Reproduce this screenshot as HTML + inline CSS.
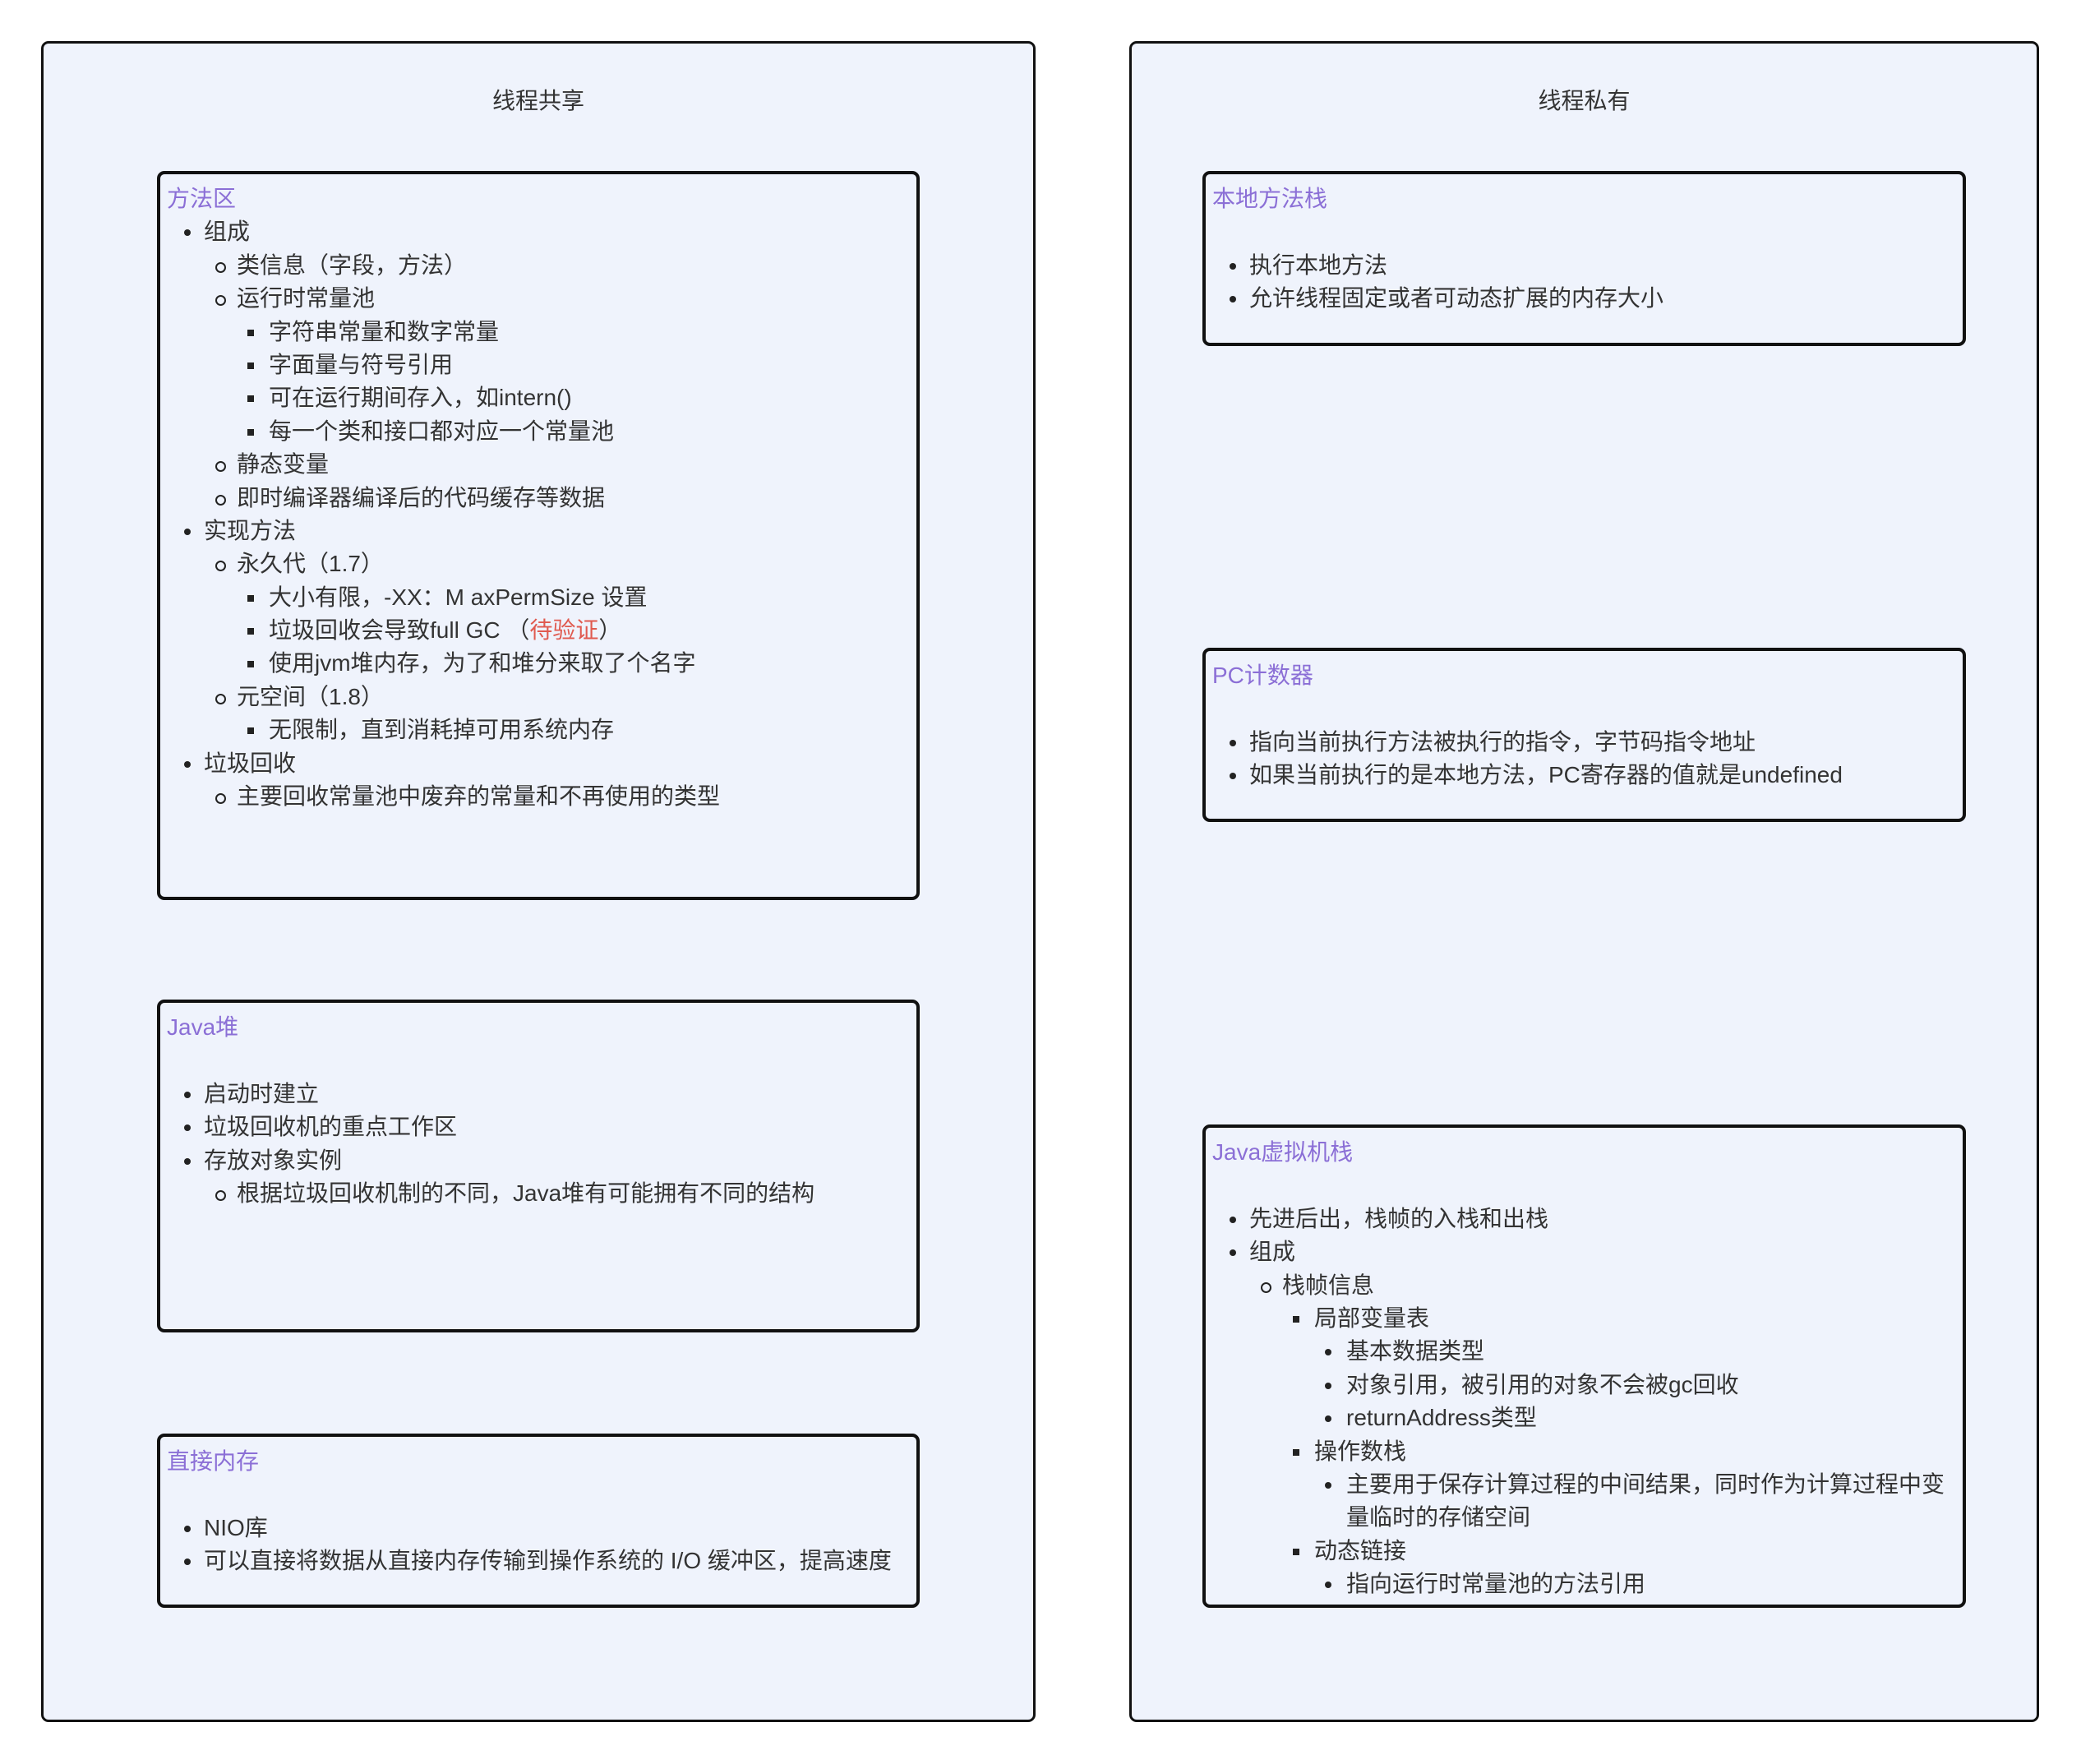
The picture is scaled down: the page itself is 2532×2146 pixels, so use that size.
<!DOCTYPE html>
<html><head><meta charset="utf-8"><style>
*{margin:0;padding:0;box-sizing:border-box}
body{width:2532px;height:2146px;background:#fff;position:relative;overflow:hidden;font-family:"Liberation Sans","Noto Sans CJK SC",sans-serif;color:#333;font-size:28px}
.outer{position:absolute;border:3.5px solid #111;border-radius:9px;background:#eff3fc}
.ot{position:absolute;left:0;right:0;text-align:center;top:50px;line-height:40px;font-size:28px;color:#333}
.box{position:absolute;border:4px solid #111;border-radius:9px;background:#eff3fc;padding-top:10px}
.r{height:40.4px;line-height:40.4px;white-space:nowrap;position:relative}
.t{color:#8b6fd6;padding-left:8px}
.l1{padding-left:53px}.l2{padding-left:93px}.l3{padding-left:132px}.l4{padding-left:171px}
.r::before{content:"";position:absolute;top:17px}
.l1::before{left:29px;width:8px;height:8px;border-radius:50%;background:#222}
.l2::before{left:67px;width:9px;height:9px;border-radius:50%;border:2px solid #222;top:16px}
.l3::before{left:106px;width:8px;height:8px;background:#222}
.l4::before{left:145px;width:8px;height:8px;border-radius:50%;background:#222}
.t::before,.b::before{display:none}
.red{color:#e05a4f}
</style></head><body>
<div class="outer" style="left:50px;top:50px;width:1210px;height:2045px"><div class="ot">线程共享</div></div>
<div class="outer" style="left:1374px;top:50px;width:1107px;height:2045px"><div class="ot">线程私有</div></div>

<div class="box" style="left:191px;top:208px;width:928px;height:887px">
<div class="r t">方法区</div>
<div class="r l1">组成</div>
<div class="r l2">类信息（字段，方法）</div>
<div class="r l2">运行时常量池</div>
<div class="r l3">字符串常量和数字常量</div>
<div class="r l3">字面量与符号引用</div>
<div class="r l3">可在运行期间存入，如intern()</div>
<div class="r l3">每一个类和接口都对应一个常量池</div>
<div class="r l2">静态变量</div>
<div class="r l2">即时编译器编译后的代码缓存等数据</div>
<div class="r l1">实现方法</div>
<div class="r l2">永久代（1.7）</div>
<div class="r l3">大小有限，-XX：M axPermSize 设置</div>
<div class="r l3">垃圾回收会导致full GC （<span class="red">待验证</span>）</div>
<div class="r l3">使用jvm堆内存，为了和堆分来取了个名字</div>
<div class="r l2">元空间（1.8）</div>
<div class="r l3">无限制，直到消耗掉可用系统内存</div>
<div class="r l1">垃圾回收</div>
<div class="r l2">主要回收常量池中废弃的常量和不再使用的类型</div>
</div>

<div class="box" style="left:191px;top:1216px;width:928px;height:405px">
<div class="r t">Java堆</div>
<div class="r b"></div>
<div class="r l1">启动时建立</div>
<div class="r l1">垃圾回收机的重点工作区</div>
<div class="r l1">存放对象实例</div>
<div class="r l2">根据垃圾回收机制的不同，Java堆有可能拥有不同的结构</div>
</div>

<div class="box" style="left:191px;top:1744px;width:928px;height:212px">
<div class="r t">直接内存</div>
<div class="r b"></div>
<div class="r l1">NIO库</div>
<div class="r l1">可以直接将数据从直接内存传输到操作系统的 I/O 缓冲区，提高速度</div>
</div>

<div class="box" style="left:1463px;top:208px;width:929px;height:213px">
<div class="r t">本地方法栈</div>
<div class="r b"></div>
<div class="r l1">执行本地方法</div>
<div class="r l1">允许线程固定或者可动态扩展的内存大小</div>
</div>

<div class="box" style="left:1463px;top:788px;width:929px;height:212px">
<div class="r t">PC计数器</div>
<div class="r b"></div>
<div class="r l1">指向当前执行方法被执行的指令，字节码指令地址</div>
<div class="r l1">如果当前执行的是本地方法，PC寄存器的值就是undefined</div>
</div>

<div class="box" style="left:1463px;top:1368px;width:929px;height:588px">
<div class="r t">Java虚拟机栈</div>
<div class="r b"></div>
<div class="r l1">先进后出，栈帧的入栈和出栈</div>
<div class="r l1">组成</div>
<div class="r l2">栈帧信息</div>
<div class="r l3">局部变量表</div>
<div class="r l4">基本数据类型</div>
<div class="r l4">对象引用，被引用的对象不会被gc回收</div>
<div class="r l4">returnAddress类型</div>
<div class="r l3">操作数栈</div>
<div class="r l4">主要用于保存计算过程的中间结果，同时作为计算过程中变</div>
<div class="r b l4">量临时的存储空间</div>
<div class="r l3">动态链接</div>
<div class="r l4">指向运行时常量池的方法引用</div>
</div>
</body></html>
